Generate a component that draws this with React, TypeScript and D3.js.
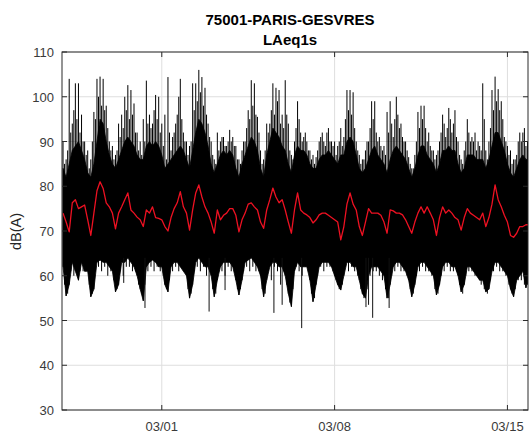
import React from "react";
import * as d3 from "d3";

// ---- data (3-hour bins starting 2020-02-26 00:00) ----
const startTime = "2020-02-26T00:00";
const binHours = 3;
const domainStart = "2020-02-25T23:00";
const domainEnd = "2020-03-15T20:00";

// spike maxima per bin (dB)
const peakDb = [
  90, 86, 104, 94, 103, 103, 96, 90,
  88, 86, 96.6, 104, 104.5, 104, 98, 90,
  89, 87, 94, 96, 100, 102.6, 101.5, 98.5,
  92, 90, 95, 103.6, 96, 94, 100.4, 100,
  94, 96, 104.4, 88, 92, 96, 104, 92,
  90, 89, 103, 103, 106, 104.4, 102, 94,
  90, 86, 92, 90, 91, 89, 92.6, 91,
  89, 86, 88, 90, 97, 103.7, 103, 95.5,
  88, 86, 94, 94, 103, 102, 101.5, 96,
  103.7, 94, 87, 90, 99, 92, 91, 90,
  88, 87, 86.5, 90, 92, 89, 93, 90,
  90, 89, 93, 91, 101.5, 101.5, 101, 90,
  87, 86, 88, 90, 99, 99, 90, 89,
  89, 96.6, 99, 91, 100, 93, 91, 90,
  86.5, 84, 87, 96.6, 98, 98, 90, 89,
  88, 87, 90, 96, 91, 97.5, 92, 97,
  90, 86, 88, 95, 90, 90, 88, 89,
  103, 88, 90, 101.5, 104.5, 101.7, 99, 91,
  89, 88, 86, 87, 92, 92, 89, 89,
];

// secondary spike maxima, half a bin later (dB)
const peakMidDb = [
  85, 88, 92, 97, 95, 92, 90, 87,
  84, 90, 95, 100, 98, 97, 93, 88,
  86, 88, 91, 93, 97, 95, 96, 92,
  88, 87, 90, 94, 93, 97, 95, 92,
  89, 86, 92, 91, 94, 100, 95, 90,
  87, 90, 97, 99, 101, 98, 96, 91,
  87, 85, 88, 91, 89, 90, 90, 89,
  86, 85, 90, 93, 95, 98, 96, 92,
  85, 88, 92, 97, 96, 99, 94, 93,
  96, 88, 86, 93, 95, 90, 92, 88,
  86, 85, 88, 91, 90, 92, 90, 89,
  87, 90, 89, 95, 97, 96, 93, 88,
  85, 86, 90, 93, 95, 92, 91, 88,
  87, 92, 94, 95, 96, 94, 90, 88,
  85, 84, 90, 93, 95, 93, 92, 88,
  86, 88, 92, 94, 93, 95, 94, 91,
  87, 85, 90, 92, 91, 92, 90, 88,
  95, 86, 93, 97, 99, 97, 95, 90,
  87, 85, 86, 90, 90, 93, 90, 88,
];

// top of the dense black band per bin (dB)
const coreDb = [
  84, 82, 85, 88, 89, 90, 88, 86,
  83, 82, 85, 90, 95, 94, 90, 87,
  85, 84, 86, 88, 90, 91, 90, 89,
  87, 86, 86, 89, 90, 89, 90, 89,
  87, 84, 85, 86, 87, 88, 89, 88,
  86, 84, 88, 92, 95, 94, 92, 89,
  85, 83, 85, 87, 88, 87, 88, 87,
  84, 82, 85, 87, 89, 91, 90, 88,
  84, 82, 87, 90, 93, 92, 91, 89,
  88, 85, 83, 87, 89, 88, 88, 87,
  85, 84, 84, 86, 87, 87, 88, 87,
  86, 85, 87, 87, 90, 91, 90, 87,
  84, 83, 84, 86, 88, 89, 87, 86,
  85, 83, 86, 88, 89, 88, 87, 86,
  84, 82, 84, 87, 89, 89, 87, 86,
  85, 83, 85, 88, 88, 89, 88, 88,
  85, 83, 84, 87, 87, 87, 86, 86,
  86, 84, 86, 89, 92, 92, 90, 88,
  85, 83, 82, 84, 86, 87, 86, 86,
];

// minimum per bin (dB)
const floorDb = [
  62, 55.5, 58, 63, 61, 59, 63, 61,
  61, 55.3, 57, 63, 63.5, 63, 63, 62,
  61, 56.4, 58, 63, 63, 64, 63, 62,
  60, 57, 54.4, 62, 63, 63.5, 63, 62,
  62, 58, 56.4, 62, 63, 63, 62, 61,
  60, 55, 58, 63, 64, 63, 62, 62,
  60, 55.3, 59, 62, 63, 63, 63, 62,
  59, 55.7, 59, 63, 63.5, 64, 63, 62,
  60, 55.3, 59, 62, 63, 63, 62, 62,
  60, 56, 53.1, 61, 63, 62, 62, 62,
  59, 54.2, 58, 62, 63, 63, 63, 62,
  60, 58, 56.8, 60, 63, 63, 62, 62,
  59, 56, 55, 60, 62, 62, 62, 61,
  60, 55, 58, 62, 63, 63, 62, 61,
  59, 55.3, 58, 62, 63, 63, 62, 61,
  60, 55.7, 58, 62, 63, 63, 62, 62,
  60, 56.4, 58, 62, 62, 61, 60, 59,
  59, 56.4, 57, 61, 63, 63, 62, 61,
  60, 57, 55.3, 59, 60, 61, 57.3, 60,
];

// secondary minima, half a bin later (dB)
const floorMidDb = [
  58, 56, 61, 60, 62, 61, 61, 62,
  58, 56, 61, 62, 61, 62, 60, 61,
  59, 57, 61, 60, 62, 62, 61, 61,
  58, 56, 58, 61, 62, 61, 62, 61,
  60, 57, 59, 61, 62, 61, 62, 61,
  57, 56, 61, 62, 61, 62, 60, 61,
  57, 56, 61, 61, 60, 62, 61, 61,
  57, 57, 61, 62, 61, 62, 61, 61,
  57, 56, 61, 59, 62, 61, 58, 61,
  58, 54, 57, 62, 61, 60, 62, 61,
  56, 55, 60, 62, 61, 62, 62, 61,
  59, 57, 58, 62, 61, 62, 61, 60,
  57, 55, 57, 60, 61, 61, 60, 59,
  57, 55, 60, 61, 62, 61, 61, 60,
  57, 56, 60, 61, 62, 61, 61, 60,
  57, 56, 60, 61, 62, 61, 61, 61,
  58, 56, 60, 61, 61, 60, 60, 58,
  57, 56, 59, 61, 62, 61, 61, 60,
  58, 56, 57, 59, 59, 58, 58, 59,
];

// smoothed level (red line)
const leqDb = [
  74, 72, 69.8, 76.3, 77, 75, 75.4, 75.8,
  72.5, 69, 74, 79, 81, 79.5, 76.3, 75.4,
  74, 70.5, 74, 75.4, 77, 78.5, 74.7, 74,
  73.1, 72.5, 71, 74.7, 74, 75.4, 73, 72.8,
  72.5, 71, 70, 73, 75, 76.3, 78.8, 75.4,
  74, 70.2, 74.7, 78.5, 80.3, 77.6, 75.4, 74,
  72, 69.5, 74.7, 72.5, 73.5, 74, 75, 75,
  73.5, 69.8, 72.5, 74, 76, 76.3, 75.4, 74.7,
  72, 70.6, 74.7, 77, 79.6, 77.6, 76.3, 77,
  74.7, 72, 69.5, 74.7, 78.5, 74.7, 74, 73.6,
  73, 71.8, 72.5, 73.6, 74, 74, 73.5, 73,
  72.5, 72, 68, 71, 76, 78.5, 76, 74.7,
  71, 69, 72, 75, 74, 74, 74, 73.5,
  72, 69.5, 74.7, 74.5, 74, 74, 73.6, 72.5,
  71, 69.5, 72, 74, 75.4, 74, 75.4, 74,
  72.5, 69, 73, 75.4, 74, 74.7, 74, 73,
  72.5, 70.2, 73, 75, 74, 73.5, 73, 72.5,
  74, 71, 73, 76, 80.3, 77, 75.4, 73.5,
  72, 69, 68.6, 69.5, 71, 71, 71.4, 71.4,
];

// isolated low drop-outs
const dropTimes = [
  "2020-02-28T11:00", "2020-02-29T07:40", "2020-03-02T22:00", "2020-03-03T13:30",
  "2020-03-05T13:00", "2020-03-05T21:00", "2020-03-06T16:00", "2020-03-09T06:30",
  "2020-03-09T09:00", "2020-03-09T13:00", "2020-03-10T05:00",
];
const dropDb = [58.4, 52.8, 52, 56.8, 51.7, 53.5, 48.3, 53, 53.5, 50.6, 52.8];

const xTickDates = ["2020-03-01T00:00", "2020-03-08T00:00", "2020-03-15T00:00"];
const xTickLabels = ["03/01", "03/08", "03/15"];
const yTicks = [30, 40, 50, 60, 70, 80, 90, 100, 110];
const titleLines = ["75001-PARIS-GESVRES", "LAeq1s"];
const yLabel = "dB(A)";

const W = 530;
const H = 440;
const L = 62, T = 52, R = 528, B = 410;
const FONT = "'Liberation Sans', Arial, Helvetica, sans-serif";

export default function App() {
  const parse = d3.timeParse("%Y-%m-%dT%H:%M");
  const start = parse(startTime) as Date;
  const times = peakDb.map((_, i) => d3.timeHour.offset(start, i * binHours));
  const midTimes = peakDb.map((_, i) => d3.timeMinute.offset(start, i * binHours * 60 + (binHours * 60) / 2));
  const x = d3.scaleTime().domain([parse(domainStart) as Date, parse(domainEnd) as Date]).range([L, R]);
  const y = d3.scaleLinear().domain([30, 110]).range([B, T]);

  const core = d3
    .area<number>()
    .x((_, i) => x(times[i]))
    .y0((_, i) => y(floorDb[i]))
    .y1((_, i) => y(coreDb[i]));
  const redLine = d3
    .line<number>()
    .x((_, i) => x(times[i]))
    .y((d) => y(d));

  const xt = xTickDates.map((s) => x(parse(s) as Date));
  const axisColor = "#2b2b2b";
  const gridColor = "#dedede";
  const tickLen = 5;

  return (
    <svg width={W} height={H} style={{ position: "absolute", left: 0, top: 0, background: "#fff" }} fontFamily={FONT}>
      <defs>
        <clipPath id="plot">
          <rect x={L} y={T} width={R - L} height={B - T} />
        </clipPath>
      </defs>
      <rect x={0} y={0} width={W} height={H} fill="#fff" />
      {yTicks.map((v) => (
        <line key={"gy" + v} x1={L} x2={R} y1={y(v)} y2={y(v)} stroke={gridColor} strokeWidth={1} />
      ))}
      {xt.map((px, i) => (
        <line key={"gx" + i} x1={px} x2={px} y1={T} y2={B} stroke={gridColor} strokeWidth={1} />
      ))}
      <g clipPath="url(#plot)">
        <path d={core(floorDb) || ""} fill="#000" stroke="#000" strokeWidth={0.8} />
        {peakDb.map((p, i) => (
          <line
            key={"p" + i}
            x1={x(times[i])}
            x2={x(times[i])}
            y1={y(floorDb[i])}
            y2={y(p)}
            stroke="#000"
            strokeWidth={1}
          />
        ))}
        {peakMidDb.map((p, i) => (
          <line
            key={"pm" + i}
            x1={x(midTimes[i])}
            x2={x(midTimes[i])}
            y1={y(floorMidDb[i])}
            y2={y(p)}
            stroke="#000"
            strokeWidth={1}
          />
        ))}
        {dropTimes.map((s, i) => {
          const px = x(parse(s) as Date);
          return <line key={"d" + i} x1={px} x2={px} y1={y(64)} y2={y(dropDb[i])} stroke="#111" strokeWidth={1} />;
        })}
        <path d={redLine(leqDb) || ""} fill="none" stroke="#ee1122" strokeWidth={1.3} strokeLinejoin="round" />
      </g>
      <rect x={L} y={T} width={R - L} height={B - T} fill="none" stroke={axisColor} strokeWidth={1} />
      {yTicks.map((v) => (
        <g key={"ty" + v}>
          <line x1={L} x2={L + tickLen} y1={y(v)} y2={y(v)} stroke={axisColor} />
          <line x1={R - tickLen} x2={R} y1={y(v)} y2={y(v)} stroke={axisColor} />
          <text x={L - 8} y={y(v) + 5} textAnchor="end" fontSize={13} fill="#3a3a3a">
            {v}
          </text>
        </g>
      ))}
      {xt.map((px, i) => (
        <g key={"tx" + i}>
          <line x1={px} x2={px} y1={B} y2={B - tickLen} stroke={axisColor} />
          <line x1={px} x2={px} y1={T} y2={T + tickLen} stroke={axisColor} />
          <text x={px} y={430.5} textAnchor="middle" fontSize={13} fill="#3a3a3a">
            {xTickLabels[i]}
          </text>
        </g>
      ))}
      <text x={290} y={24.5} textAnchor="middle" fontSize={15} fontWeight="bold" fill="#000">
        {titleLines[0]}
      </text>
      <text x={290} y={44.5} textAnchor="middle" fontSize={15} fontWeight="bold" fill="#000">
        {titleLines[1]}
      </text>
      <text transform="translate(20.5,231.5) rotate(-90)" textAnchor="middle" fontSize={14.5} fill="#262626">
        {yLabel}
      </text>
    </svg>
  );
}
